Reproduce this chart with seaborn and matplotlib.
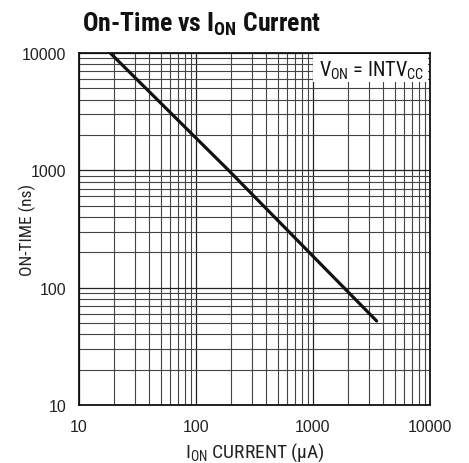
import matplotlib
matplotlib.use("Agg")
import matplotlib.pyplot as plt
from matplotlib import font_manager
from matplotlib.patches import Rectangle
from matplotlib.ticker import LogLocator, FixedLocator, FixedFormatter, NullFormatter
import seaborn as sns
import pandas as pd

# On-time versus I_ON current (log-log)
i_on_ua = [18.5, 190, 3500]
on_time_ns = [10000, 1000, 52]
x_ticks = [10, 100, 1000, 10000]
y_ticks = [10, 100, 1000, 10000]

sns.set_style("white")

# prefer a narrow sans face when one is installed
fonts = font_manager.fontManager.ttflist
names = {f.name for f in fonts}
STRETCH = "normal"
NARROW = "Liberation Sans"
for cand in ["Liberation Sans Narrow", "Roboto Condensed", "Open Sans Condensed",
             "Noto Sans Condensed", "DejaVu Sans Condensed"]:
    if cand in names:
        NARROW = cand
        break
else:
    if any(f.name == "DejaVu Sans" and f.stretch == "condensed" for f in fonts):
        NARROW = "DejaVu Sans"
        STRETCH = "condensed"
DIGITS = "Liberation Sans"

plt.rcParams["font.family"] = [NARROW, "DejaVu Sans"]
plt.rcParams["font.stretch"] = STRETCH
plt.rcParams["mathtext.fontset"] = "custom"
plt.rcParams["mathtext.rm"] = NARROW
plt.rcParams["mathtext.it"] = NARROW + ":italic"
plt.rcParams["mathtext.bf"] = NARROW + ":bold"

df = pd.DataFrame({"current": i_on_ua, "time": on_time_ns})

fig = plt.figure(figsize=(4.69, 4.64), dpi=100)
ax = fig.add_axes([0.1684, 0.125, 0.7484, 0.7586])

sns.lineplot(data=df, x="current", y="time", ax=ax, color="#111111",
             linewidth=2.3, zorder=5)

ax.set_xscale("log")
ax.set_yscale("log")
ax.set_xlim(x_ticks[0], x_ticks[-1])
ax.set_ylim(y_ticks[0], y_ticks[-1])

ax.xaxis.set_major_locator(FixedLocator(x_ticks))
ax.xaxis.set_major_formatter(FixedFormatter([str(v) for v in x_ticks]))
ax.yaxis.set_major_locator(FixedLocator(y_ticks))
ax.yaxis.set_major_formatter(FixedFormatter([str(v) for v in y_ticks]))
ax.xaxis.set_minor_locator(LogLocator(base=10, subs=range(2, 10)))
ax.yaxis.set_minor_locator(LogLocator(base=10, subs=range(2, 10)))
ax.xaxis.set_minor_formatter(NullFormatter())
ax.yaxis.set_minor_formatter(NullFormatter())

ax.tick_params(which="both", length=0, colors="#222222")
ax.tick_params(axis="x", pad=10)
ax.tick_params(axis="y", pad=9)
for lab in ax.get_xticklabels() + ax.get_yticklabels():
    lab.set_fontfamily(DIGITS)
    lab.set_fontsize(11.5)
ax.grid(which="major", color="#222222", linewidth=0.9)
ax.grid(which="minor", color="#444444", linewidth=0.8)
ax.set_axisbelow(True)

for s in ax.spines.values():
    s.set_color("#111111")
    s.set_linewidth(1.3)
    s.set_visible(True)

# label box in the upper right corner
ax.add_patch(Rectangle((0.667, 0.918), 0.327, 0.08, transform=ax.transAxes,
                       facecolor="white", edgecolor="none", zorder=3))
ax.text(0.683, 0.935, r"V$_{\mathrm{ON}}$ = INTV$_{\mathrm{CC}}$",
        transform=ax.transAxes, fontsize=14.5, va="baseline", ha="left",
        color="#111111", zorder=4)

ax.set_xlabel(r"I$_{\mathrm{ON}}$ CURRENT ($\mathrm{\mu}$A)", fontsize=14,
              color="#222222", labelpad=5)
ax.set_ylabel("ON-TIME (ns)", fontsize=12.5, color="#222222")
ax.yaxis.set_label_coords(-0.123, 0.5)

fig.text(0.175, 0.932, r"On-Time vs I$_{\mathbf{ON}}$ Current", fontsize=18.5,
         fontweight="bold", color="#111111", ha="left", va="baseline")

fig.savefig("out.png", dpi=100)
